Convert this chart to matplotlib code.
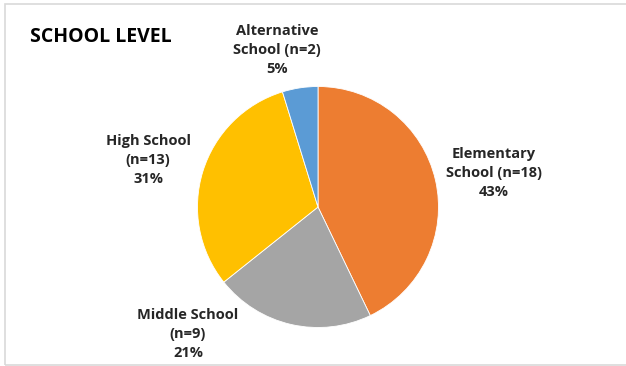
import matplotlib.pyplot as plt
from matplotlib.patches import Rectangle

# data
categories = ["Elementary\nSchool (n=18)", "Middle School\n(n=9)", "High School\n(n=13)", "Alternative\nSchool (n=2)"]
counts = [18, 9, 13, 2]
colors = ["#ED7D31", "#A5A5A5", "#FFC000", "#5B9BD5"]

W, H = 626, 366
fig = plt.figure(figsize=(W / 100, H / 100), dpi=100)
ax = fig.add_axes([0, 0, 1, 1])

cx, cy, r = 318, H - 207, 120.5
ax.pie(counts, colors=colors, startangle=90, counterclock=False,
       center=(cx, cy), radius=r, frame=True,
       wedgeprops=dict(edgecolor="white", linewidth=0.6))
ax.set_xlim(0, W)
ax.set_ylim(0, H)
ax.set_aspect("equal")
ax.axis("off")

# frame (right side runs off the image)
ax.add_patch(Rectangle((5, 1.5), W, H - 5.5, fill=False, ec="#D9D9D9", lw=1.2,
                       clip_on=False))

total = sum(counts)
label_pos = [(494, 173), (188, 334), (148, 160), (277, 50)]
for lab, n, (x, y) in zip(categories, counts, label_pos):
    pct = round(100 * n / total)
    ax.text(x, H - y, f"{lab}\n{pct}%", ha="center", va="center",
            fontsize=10.5, fontweight="bold", color="#262626",
            family="Open Sans", linespacing=1.45)

ax.text(30, H - 37, "SCHOOL LEVEL", ha="left", va="center", fontsize=14,
        fontweight="bold", color="#000000", family="Open Sans")

fig.savefig("out.png", dpi=100)
